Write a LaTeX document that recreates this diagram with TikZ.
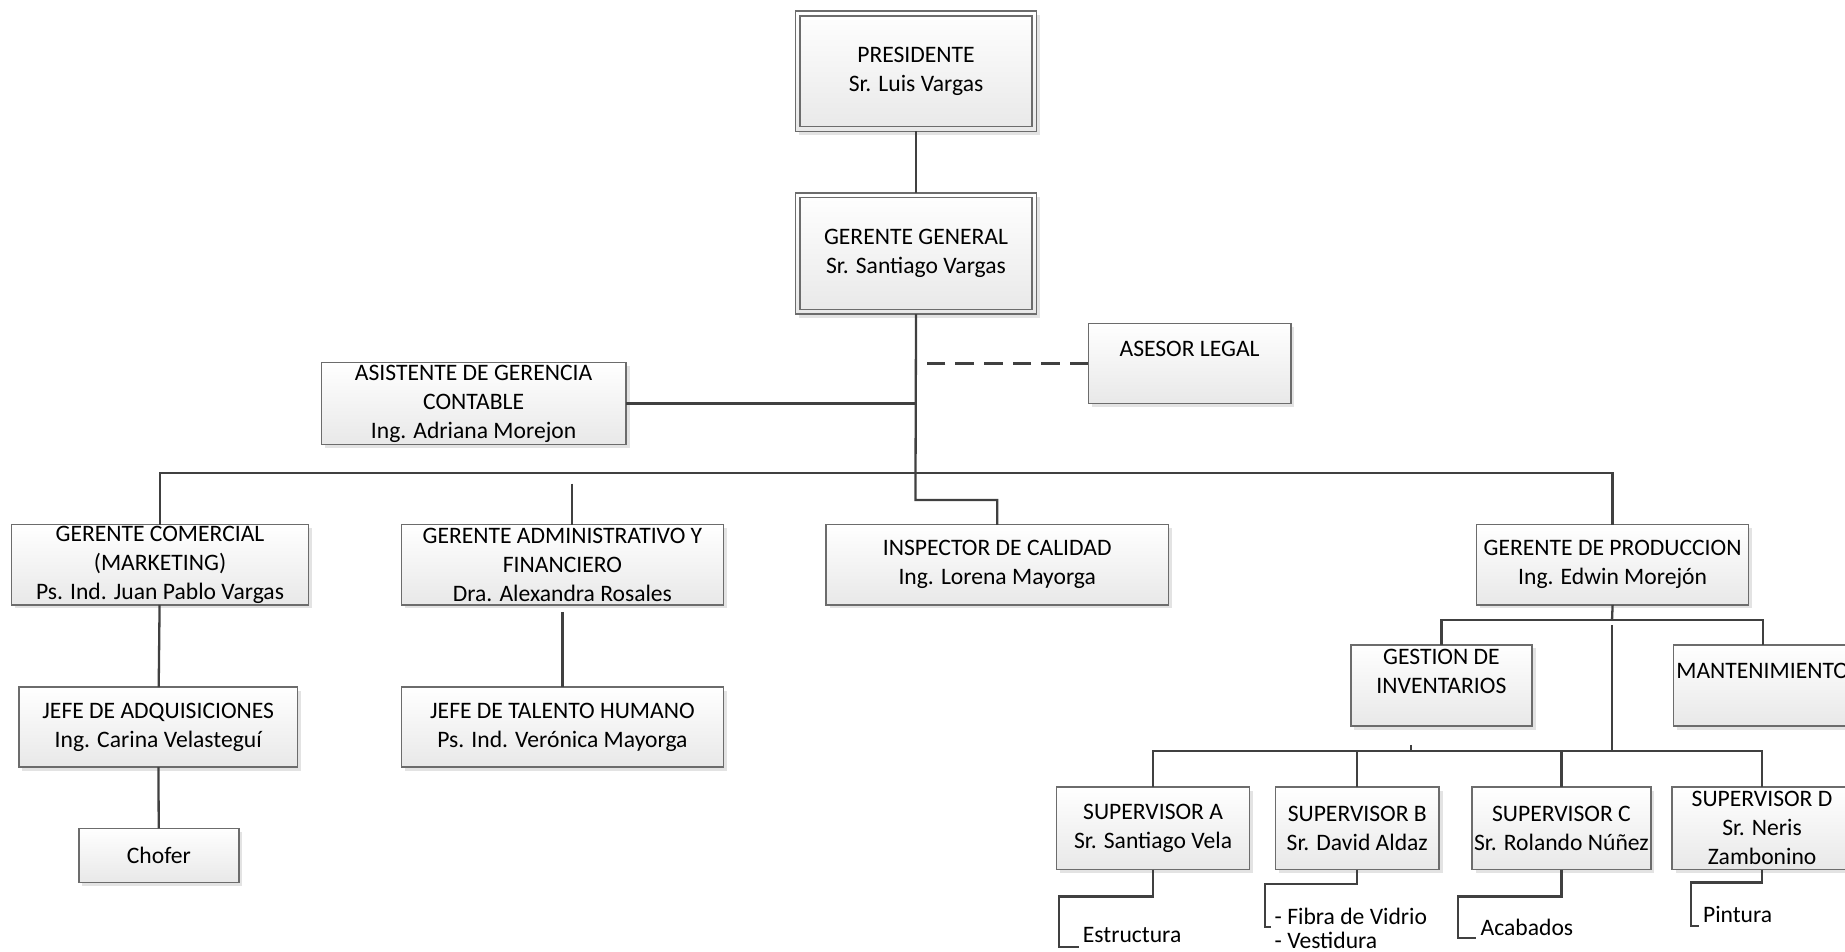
\documentclass[tikz,border=0pt]{standalone}
\usepackage{fontspec}
\setmainfont{Carlito}
\usetikzlibrary{shadows}

\newcommand\pxu{0.5883pt}
\tikzset{
  box/.style={draw=gray!85!black, line width=.7pt, top color=white, bottom color=gray!18,
    drop shadow={shadow xshift=1.8pt, shadow yshift=-1.8pt, fill=gray!22, opacity=1},
    inner sep=0pt, outer sep=0pt, align=center, font=\fontsize{11.8}{14.5}\selectfont},
  conn/.style={draw=black!75, line width=1.15pt},
  item/.style={inner sep=0pt, anchor=west, align=left, font=\fontsize{11.8}{12.4}\selectfont},
}

\begin{document}
\begin{tikzpicture}[x=\pxu, y=-\pxu]
  \useasboundingbox (0,0) rectangle (1568,809);

  % direccion
  \node[box, minimum width=205*\pxu, minimum height=102*\pxu] (pres) at (778.5,60.5) {PRESIDENTE\\Sr. Luis Vargas};
  \node[box, minimum width=205*\pxu, minimum height=103*\pxu] (gg) at (778.5,215.5) {GERENTE GENERAL\\Sr. Santiago Vargas};
  \draw[draw=gray!85!black, line width=.7pt] ([shift={(4,4)}]pres.north west) rectangle ([shift={(-4,-4)}]pres.south east);
  \draw[draw=gray!85!black, line width=.7pt] ([shift={(4,4)}]gg.north west) rectangle ([shift={(-4,-4)}]gg.south east);
  \node[box, minimum width=172*\pxu, minimum height=68*\pxu] (ases) at (1011,309) {ASESOR LEGAL\\ \mbox{}};
  \node[box, minimum width=259*\pxu, minimum height=70*\pxu] (asis) at (402.5,343) {ASISTENTE DE GERENCIA\\CONTABLE\\Ing. Adriana Morejon};

  % gerencias
  \node[box, minimum width=252*\pxu, minimum height=68*\pxu] (gc) at (136,480) {GERENTE COMERCIAL\\(MARKETING)\\Ps. Ind. Juan Pablo Vargas};
  \node[box, minimum width=274*\pxu, minimum height=68*\pxu] (ga) at (478,480) {GERENTE ADMINISTRATIVO Y\\FINANCIERO\\Dra. Alexandra Rosales};
  \node[box, minimum width=291*\pxu, minimum height=68*\pxu] (insp) at (847.5,480) {INSPECTOR DE CALIDAD\\Ing. Lorena Mayorga};
  \node[box, minimum width=231*\pxu, minimum height=68*\pxu] (gp) at (1370.5,480) {GERENTE DE PRODUCCION\\Ing. Edwin Morejón};

  \node[box, minimum width=237*\pxu, minimum height=68*\pxu] (adq) at (134.5,618) {JEFE DE ADQUISICIONES\\Ing. Carina Velasteguí};
  \node[box, minimum width=136*\pxu, minimum height=46*\pxu] (chof) at (135,727) {Chofer};
  \node[box, minimum width=274*\pxu, minimum height=68*\pxu] (th) at (478,618) {JEFE DE TALENTO HUMANO\\Ps. Ind. Verónica Mayorga};

  % produccion
  \node[box, minimum width=154*\pxu, minimum height=69*\pxu] (gest) at (1225,582.5) {GESTION DE\\INVENTARIOS\\ \mbox{}};
  \node[box, minimum width=152*\pxu, minimum height=69*\pxu] (mant) at (1498,582.5) {MANTENIMIENTO\\ \mbox{}};
  \node[box, minimum width=164*\pxu, minimum height=70*\pxu] (supa) at (980,704) {SUPERVISOR A\\Sr. Santiago Vela};
  \node[box, minimum width=139*\pxu, minimum height=70*\pxu] (supb) at (1153.5,704) {SUPERVISOR B\\Sr. David Aldaz};
  \node[box, minimum width=152*\pxu, minimum height=70*\pxu] (supc) at (1327,704) {SUPERVISOR C\\Sr. Rolando Núñez};
  \node[box, minimum width=153*\pxu, minimum height=70*\pxu] (supd) at (1497.5,704) {SUPERVISOR D\\Sr. Neris\\Zambonino};

  \node[item] (estr) at (920,795) {Estructura};
  \node[item] (fibra) at (1083,789) {- Fibra de Vidrio\\- Vestidura};
  \node[item] (acab) at (1258,788) {Acabados};
  \node[item] (pint) at (1447,777) {Pintura};

  \coordinate (bar) at (778,402);
  \coordinate (elb) at (778,425);
  \coordinate (admtop) at (486,411);
  \coordinate (gpbar) at (1370,527);
  \coordinate (gpgap) at (1370,531);
  \coordinate (supbar) at (1370,638);
  \coordinate (stub) at (1199,633);
  \coordinate (ea) at (900,762);   \coordinate (ee) at (917,805);
  \coordinate (fa) at (1075,751);  \coordinate (fe) at (1080,788);
  \coordinate (aa) at (1239,762);  \coordinate (ae) at (1254,797);
  \coordinate (pa) at (1437,750);  \coordinate (pe) at (1444,787);

  \draw[conn] (pres) -- (gg);
  \draw[conn] (gg.south) -- (elb) -| (insp.north);
  \draw[conn, dash pattern=on 9.3pt off 5pt] (ases.west) -- (ases.west -| gg.south);
  \draw[conn] (asis.east) -- (asis.east -| gg.south);
  \draw[conn] (gc.north) |- (bar) -| (gp.north);
  \draw[conn] (admtop) -- (admtop |- ga.north);
  \draw[conn] (gc) -- (adq);
  \draw[conn] (adq) -- (chof);
  \draw[conn] ([yshift=-3.5pt]ga.south) -- (th.north);

  \draw[conn] (gp.south) -- (gpbar);
  \draw[conn] (gest.north) |- (gpbar) -| (mant.north);
  \draw[conn] (gpgap) -- (supbar);
  \draw[conn] (supa.north) |- (supbar) -| (supd.north);
  \draw[conn] (supb.north) -- (supb.north |- supbar);
  \draw[conn] (supc.north) -- (supc.north |- supbar);
  \draw[conn] (stub) -- (stub |- supbar);

  \draw[conn] (supa.south) |- (ea) |- (ee);
  \draw[conn] (supb.south) |- (fa) |- (fe);
  \draw[conn] (supc.south) |- (aa) |- (ae);
  \draw[conn] (supd.south) |- (pa) |- (pe);
\end{tikzpicture}
\end{document}
